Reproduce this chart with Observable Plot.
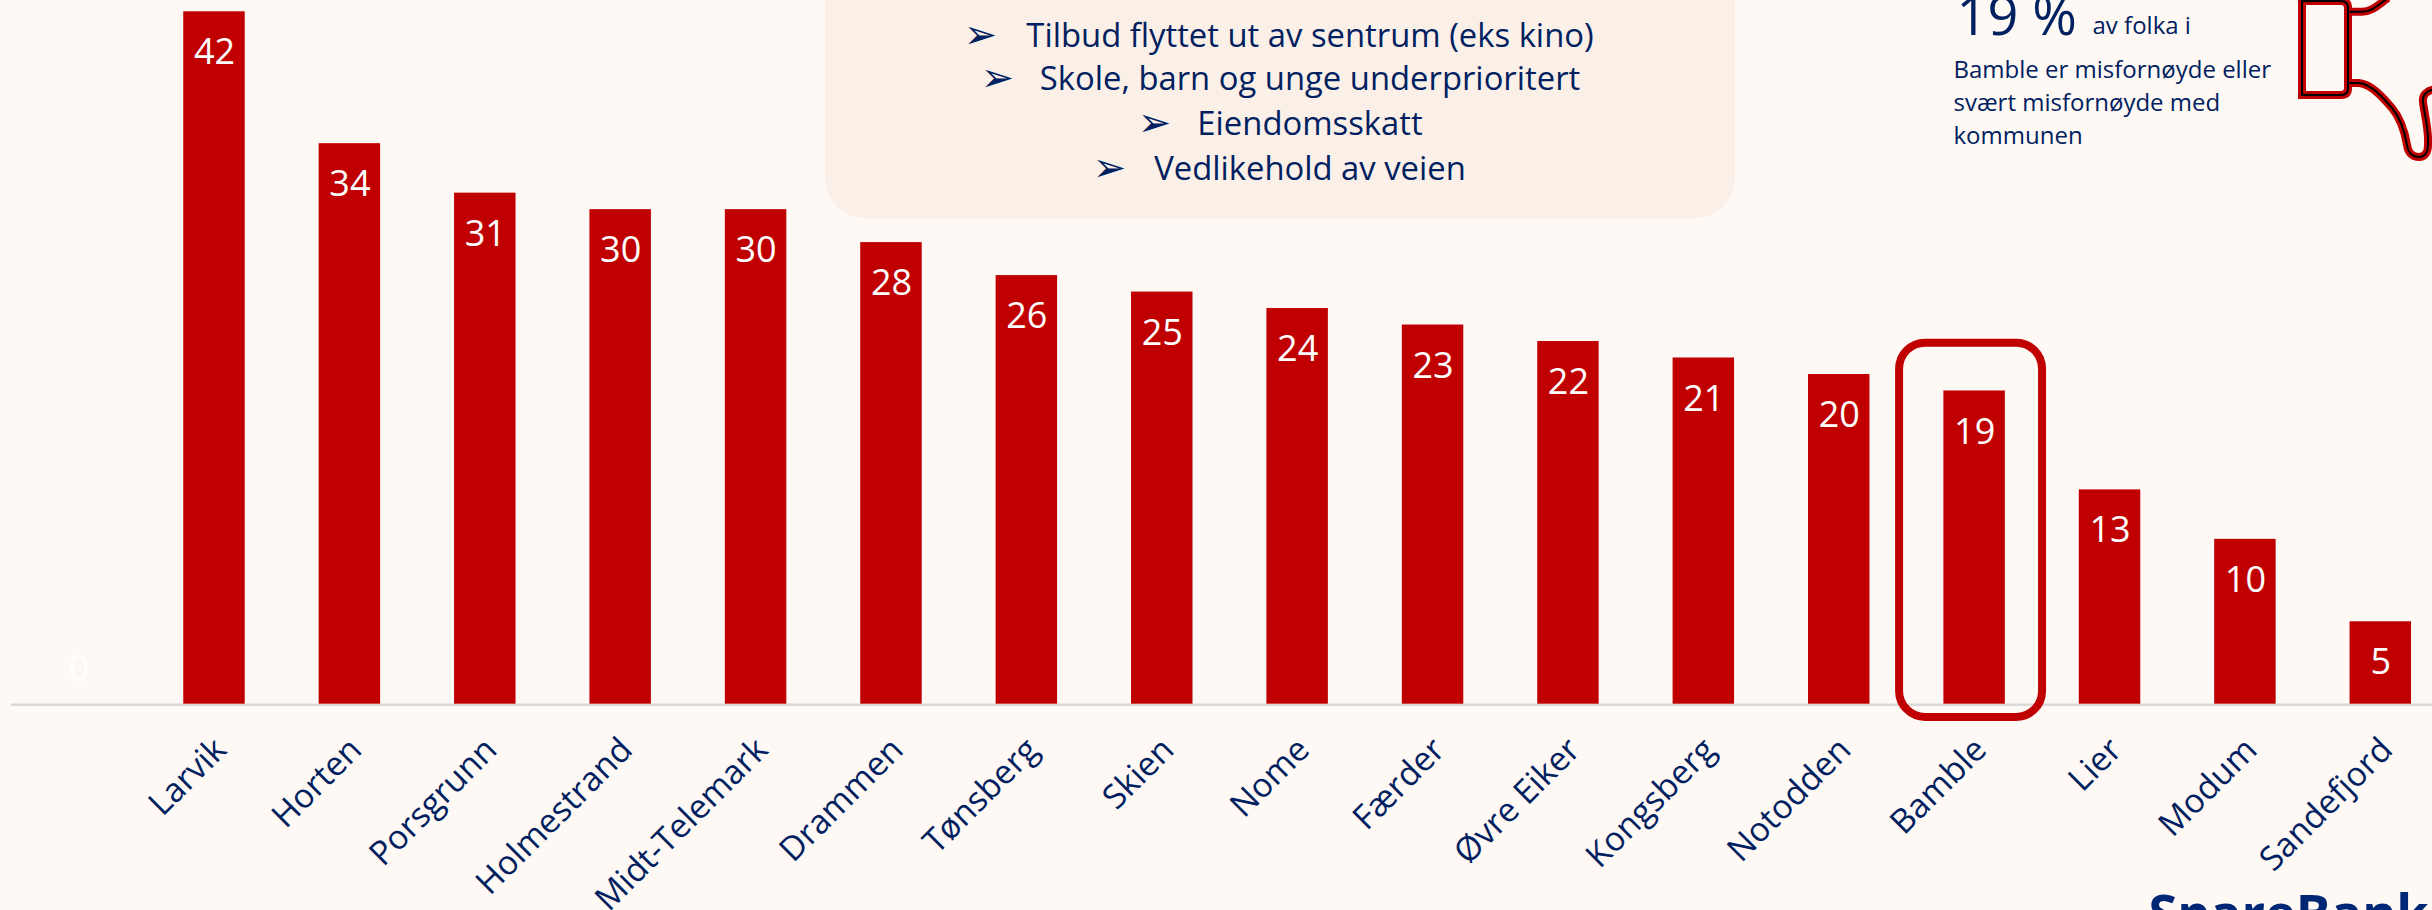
<!DOCTYPE html>
<html lang="no">
<head>
<meta charset="utf-8">
<title>Misfornøyde med kommunen</title>
<script src="https://cdn.jsdelivr.net/npm/d3@7"></script>
<script src="https://cdn.jsdelivr.net/npm/@observablehq/plot@0.6"></script>
<style>
html,body{margin:0;padding:0;background:#fef9f5;overflow:hidden}
svg{display:block}
</style>
</head>
<body>
<div id="chart"></div>
<script>
const blank = " ";
const municipalities = [blank,"Larvik","Horten","Porsgrunn","Holmestrand","Midt-Telemark","Drammen","Tønsberg","Skien","Nome","Færder","Øvre Eiker","Kongsberg","Notodden","Bamble","Lier","Modum","Sandefjord"];
const shares = [0,42,34,31,30,30,28,26,25,24,23,22,21,20,19,13,10,5];
const highlighted = ["Bamble"];
const reasons = ["Tilbud flyttet ut av sentrum (eks kino)","Skole, barn og unge underprioritert","Eiendomsskatt","Vedlikehold av veien"];
const reasonBaselines = [46,89,134,179];
const arrowCentres = [980,997,1154,1109];
const noteLines = ["Bamble er misfornøyde eller","svært misfornøyde med","kommunen"];
const noteBaselines = [77,110,143];

const W = 2432, H = 910, MT = 11.3, MB = 206.3;
const navy = "#002060", red = "#c00000";
const rows = municipalities.map((name,i)=>({name,value:shares[i]}));
const font = "'Open Sans', sans-serif";

// text placed in page coordinates via the frame's top-left corner
const note = (text, x, baseline, o={}) => Plot.text([text], {
  text: d=>d, frameAnchor:"top-left", dx:x, dy:baseline-MT, lineAnchor:"bottom",
  textAnchor:"start", fill:navy, fontSize:24, ...o
});

const box = () => {
  const g = d3.create("svg:g");
  g.append("rect").attr("x",825).attr("y",-60).attr("width",910).attr("height",278).attr("rx",40).attr("fill","#fbf0e8");
  return g.node();
};
const thumb = () => {
  const g = d3.create("svg:g").attr("fill","none").attr("stroke-linejoin","miter");
  const shapes = [
    "M2302,1 L2341,1 Q2348,1 2348,8 L2348,88 Q2348,95 2341,95 L2302,95 Z",
    "M2349,11.7 L2362,11.7 C2372,11.7 2378,5 2388,-2",
    "M2349,83 L2359,83 C2372,84 2385,100 2392,108 C2402,120 2405,133 2407,145 C2408,153 2413,157 2419,157 C2425,157 2428,152 2428,145 C2429,130 2424,112 2423,102 C2422,95 2427,90 2436,89"
  ];
  for (const d of shapes) g.append("path").attr("d",d).attr("stroke",red).attr("stroke-width",8);
  for (const d of shapes) g.append("path").attr("d",d).attr("stroke","#000").attr("stroke-width",2);
  return g.node();
};

const chart = Plot.plot({
  width:W, height:H, marginTop:MT, marginBottom:MB, marginLeft:0, marginRight:0,
  style:{background:"#fef9f5", fontFamily:font, overflow:"hidden"},
  x:{type:"band", domain:municipalities, range:[10.9,2448], paddingInner:.546, paddingOuter:.273, round:false, label:null},
  y:{domain:[0,42], range:[H-MB,MT], label:null, axis:null},
  marks:[
    box,
    Plot.ruleY([0],{stroke:"#d9d9d9", strokeWidth:2.5, insetLeft:11, dy:.6}),
    Plot.barY(rows,{x:"name", y:"value", fill:red}),
    Plot.barY(highlighted,{x:d=>d, y1:[-.8], y2:[21.9], fill:"none", stroke:red, strokeWidth:8, rx:26, insetLeft:-44.3, insetRight:-37.2}),
    Plot.text(rows.filter(d=>d.value>0),{x:"name", y:"value", text:d=>String(d.value), fill:"#fff", fontSize:36, dy:41}),
    Plot.text(rows.filter(d=>d.value===0),{x:"name", y:"value", text:d=>String(d.value), fill:"#fff", fontSize:36, dy:-35}),
    Plot.axisX({tickSize:0, tickPadding:40, tickRotate:-45, fontSize:33.5, color:navy, label:null, dx:6, fontFamily:font}),
    ...reasons.map((r,i)=>note(r,1309.5,reasonBaselines[i],{textAnchor:"middle",fontSize:32.8})),
    ...reasons.map((r,i)=>note("➢",arrowCentres[i],reasonBaselines[i]+1,{textAnchor:"middle",fontSize:40,fontFamily:"'DejaVu Sans'"})),
    note("19 %",1956,34,{fontSize:54}),
    note("av folka i",2092,33,{fontSize:24}),
    ...noteLines.map((t,i)=>note(t,1953,noteBaselines[i],{fontSize:24})),
    thumb,
    note("SpareBank",2148,931,{fontSize:52,fontWeight:700,fill:"#002776"})
  ]
});
document.getElementById("chart").append(chart);
</script>
</body>
</html>
